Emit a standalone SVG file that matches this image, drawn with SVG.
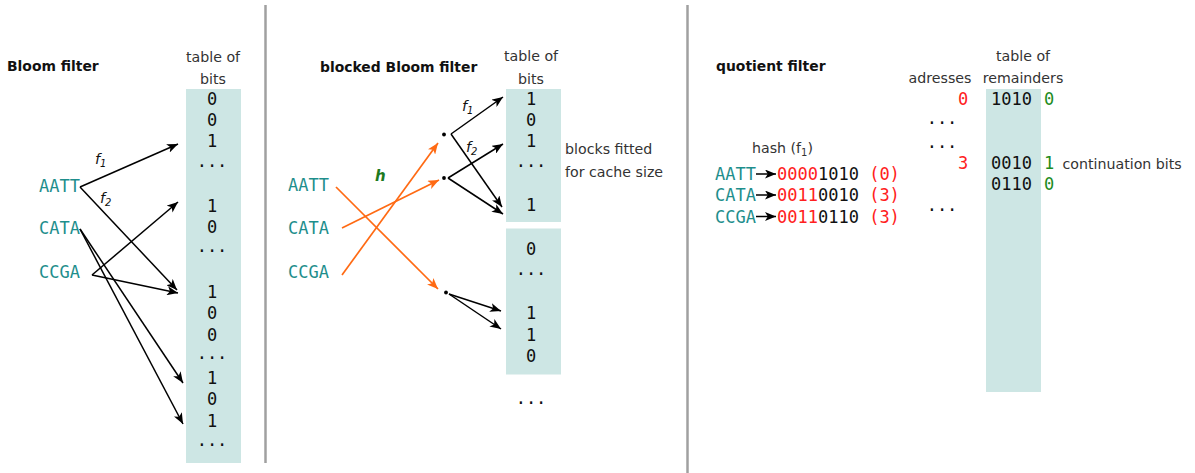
<svg xmlns="http://www.w3.org/2000/svg" width="1195" height="473" viewBox="0 0 1195 473">
<style>
.h{font-family:"DejaVu Sans",sans-serif;font-weight:bold;font-size:13.9px;fill:#111}
.t{font-family:"DejaVu Sans",sans-serif;font-size:14.2px;fill:#333}
.m{font-family:"DejaVu Sans Mono",monospace;font-size:17px;fill:#111}
.mc{font-family:"DejaVu Sans Mono",monospace;font-size:17px;fill:#111;text-anchor:middle}
.k{fill:#1e8e8c}
.r{fill:#ff2020}
.g{fill:#1e8c1e}
.f{font-family:"DejaVu Sans",sans-serif;font-style:italic;font-size:14.5px;fill:#111}
.tbl{fill:#cde6e4}
.sep{stroke:#a0a0a0;stroke-width:2.5}
.a{stroke:#000;stroke-width:1.5;fill:none;marker-end:url(#ab)}
.o{stroke:#ff6a13;stroke-width:1.7;fill:none;marker-end:url(#ao)}
</style>
<defs>
<marker id="ab" markerUnits="userSpaceOnUse" markerWidth="11" markerHeight="9" refX="11" refY="4.5" orient="auto"><path d="M0,0 L11,4.5 L0,9 L2.8,4.5 z" fill="#000"/></marker>
<marker id="ao" markerUnits="userSpaceOnUse" markerWidth="11" markerHeight="9" refX="11" refY="4.5" orient="auto"><path d="M0,0 L11,4.5 L0,9 L2.8,4.5 z" fill="#ff6a13"/></marker>
</defs>
<rect width="1195" height="473" fill="#fff"/>
<g id="separators">
<line class="sep" x1="265.5" y1="5" x2="265.5" y2="463"/>
<line class="sep" x1="687.5" y1="5" x2="687.5" y2="473"/>
</g>
<!-- Panel 1 -->
<g id="bloom-title"><text class="h" x="7" y="71">Bloom filter</text></g>
<g id="bloom-table">
<text class="t" x="213" y="62" text-anchor="middle">table of</text>
<text class="t" x="213" y="84" text-anchor="middle">bits</text>
<rect class="tbl" x="186" y="89" width="55" height="374"/>
<text class="mc" x="212" y="104.5">0</text>
<text class="mc" x="212" y="125.5">0</text>
<text class="mc" x="212" y="147">1</text>
<text class="mc" x="212" y="166.5">...</text>
<text class="mc" x="212" y="211.5">1</text>
<text class="mc" x="212" y="233">0</text>
<text class="mc" x="212" y="251.5">...</text>
<text class="mc" x="212" y="298">1</text>
<text class="mc" x="212" y="319">0</text>
<text class="mc" x="212" y="340.5">0</text>
<text class="mc" x="212" y="359">...</text>
<text class="mc" x="212" y="384">1</text>
<text class="mc" x="212" y="405">0</text>
<text class="mc" x="212" y="426.5">1</text>
<text class="mc" x="212" y="446">...</text>
</g>
<g id="bloom-keys">
<text class="m k" x="39" y="191.5">AATT</text>
<text class="m k" x="39" y="234">CATA</text>
<text class="m k" x="39" y="278">CCGA</text>
</g>
<g id="bloom-connectors">
<line class="a" x1="80" y1="187" x2="178" y2="144"/>
<line class="a" x1="80" y1="187" x2="177" y2="290"/>
<line class="a" x1="80" y1="229" x2="183" y2="383"/>
<line class="a" x1="80" y1="229" x2="183" y2="424"/>
<line class="a" x1="92" y1="275" x2="178" y2="202"/>
<line class="a" x1="92" y1="275" x2="178" y2="293"/>
<text class="f" x="95" y="164">f<tspan font-size="10" dy="3">1</tspan></text>
<text class="f" x="100" y="203">f<tspan font-size="10" dy="3">2</tspan></text>
</g>
<!-- Panel 2 -->
<g id="blocked-title"><text class="h" x="320" y="72">blocked Bloom filter</text></g>
<g id="blocked-table">
<text class="t" x="531" y="61" text-anchor="middle">table of</text>
<text class="t" x="531" y="84" text-anchor="middle">bits</text>
<rect class="tbl" x="506" y="89" width="55" height="133"/>
<rect class="tbl" x="506" y="228.5" width="55" height="146"/>
<text class="mc" x="531" y="104.5">1</text>
<text class="mc" x="531" y="125.5">0</text>
<text class="mc" x="531" y="147">1</text>
<text class="mc" x="531" y="167">...</text>
<text class="mc" x="531" y="211">1</text>
<text class="mc" x="531" y="254.5">0</text>
<text class="mc" x="531" y="274.5">...</text>
<text class="mc" x="531" y="318.5">1</text>
<text class="mc" x="531" y="340.5">1</text>
<text class="mc" x="531" y="361.5">0</text>
<text class="mc" x="531" y="403.5">...</text>
<text class="t" x="565" y="154">blocks fitted</text>
<text class="t" x="565" y="177">for cache size</text>
</g>
<g id="blocked-keys">
<text class="m k" x="288" y="191">AATT</text>
<text class="m k" x="288" y="234">CATA</text>
<text class="m k" x="288" y="278">CCGA</text>
</g>
<g id="blocked-points">
<circle cx="444" cy="134.5" r="1.9" fill="#000"/>
<circle cx="444" cy="178" r="1.9" fill="#000"/>
<circle cx="446" cy="292.5" r="1.9" fill="#000"/>
</g>
<g id="blocked-connectors">
<line class="o" x1="336" y1="187" x2="438" y2="289"/>
<line class="o" x1="342" y1="228" x2="439" y2="180"/>
<line class="o" x1="342" y1="275" x2="438" y2="143"/>
<text x="375" y="181" font-family="DejaVu Sans, sans-serif" font-weight="bold" font-style="italic" font-size="15" fill="#1e7a1e">h</text>
<line class="a" x1="451" y1="134" x2="503" y2="97"/>
<line class="a" x1="451" y1="134" x2="502" y2="207"/>
<line class="a" x1="448" y1="178" x2="503" y2="144"/>
<line class="a" x1="448" y1="178" x2="503" y2="214"/>
<line class="a" x1="449" y1="294" x2="501" y2="311"/>
<line class="a" x1="449" y1="294" x2="501" y2="329"/>
<text class="f" x="462" y="111">f<tspan font-size="10" dy="3">1</tspan></text>
<text class="f" x="466" y="152">f<tspan font-size="10" dy="3">2</tspan></text>
</g>
<!-- Panel 3 -->
<g id="quotient-title"><text class="h" x="716" y="71">quotient filter</text></g>
<g id="quotient-hash">
<text class="t" x="752" y="153">hash (f<tspan font-size="10" dy="3">1</tspan><tspan dy="-3">)</tspan></text>
<text class="m k" x="715" y="180">AATT</text>
<text class="m k" x="715" y="201">CATA</text>
<text class="m k" x="715" y="222.5">CCGA</text>
<line class="a" x1="756" y1="174" x2="776" y2="174"/>
<line class="a" x1="756" y1="195" x2="776" y2="195"/>
<line class="a" x1="756" y1="216.5" x2="776" y2="216.5"/>
<text class="m" x="777" y="180" xml:space="preserve"><tspan class="r">0000</tspan>1010<tspan class="r"> (0)</tspan></text>
<text class="m" x="777" y="201" xml:space="preserve"><tspan class="r">0011</tspan>0010<tspan class="r"> (3)</tspan></text>
<text class="m" x="777" y="222.5" xml:space="preserve"><tspan class="r">0011</tspan>0110<tspan class="r"> (3)</tspan></text>
</g>
<g id="quotient-addresses">
<text class="t" x="940" y="83" text-anchor="middle">adresses</text>
<text class="mc r" x="963" y="104.5">0</text>
<text class="mc" x="942" y="124">...</text>
<text class="mc" x="942" y="147.5">...</text>
<text class="mc r" x="963" y="168.5">3</text>
<text class="mc" x="942" y="210.5">...</text>
</g>
<g id="quotient-table">
<text class="t" x="1023" y="61" text-anchor="middle">table of</text>
<text class="t" x="1023" y="83" text-anchor="middle">remainders</text>
<rect class="tbl" x="986" y="89" width="55" height="303"/>
<text class="m" x="991" y="104.5">1010</text>
<text class="m g" x="1044" y="104.5">0</text>
<text class="m" x="991" y="168.5">0010</text>
<text class="m g" x="1044" y="168.5">1</text>
<text class="m" x="991" y="190">0110</text>
<text class="m g" x="1044" y="190">0</text>
<text class="t" x="1062.5" y="169">continuation bits</text>
</g>
</svg>
